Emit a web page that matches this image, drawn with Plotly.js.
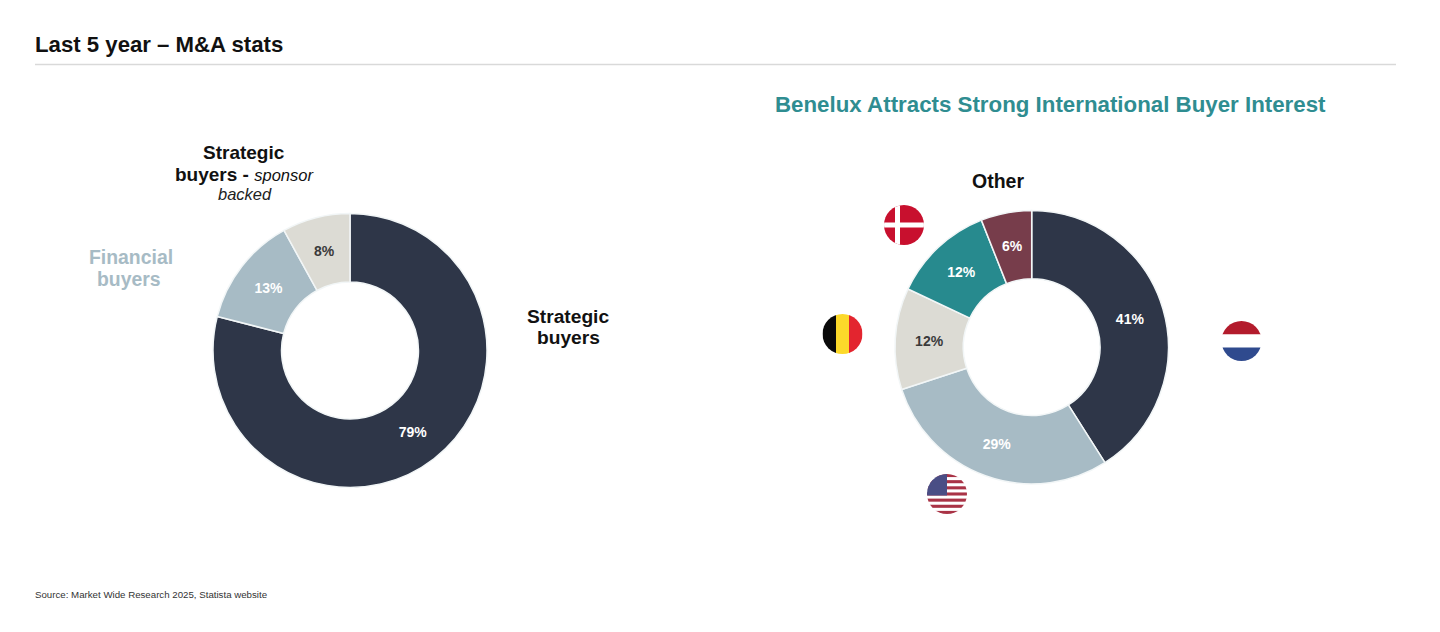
<!DOCTYPE html>
<html>
<head>
<meta charset="utf-8">
<script src="https://cdn.plot.ly/plotly-3.0.1.min.js"></script>
<style>html,body{margin:0;padding:0;background:#fff;overflow:hidden}#chart{width:1440px;height:632px}</style>
</head>
<body>
<div id="chart"></div>
<script>
const W = 1440, H = 632;
const buyerLabels = ["Strategic buyers", "Financial buyers", "Strategic buyers - sponsor backed"];
const buyerValues = [79, 13, 8];
const buyerColors = ["#2e3648", "#a7bbc5", "#dcdbd4"];
const buyerTextColors = ["#ffffff", "#ffffff", "#3a3a3a"];
const countryLabels = ["Netherlands", "United States", "Belgium", "Denmark", "Other"];
const countryValues = [41, 29, 12, 12, 6];
const countryColors = ["#2e3648", "#a7bbc5", "#dcdbd4", "#278a8e", "#773d4b"];
const countryTextColors = ["#ffffff", "#ffffff", "#3a3a3a", "#ffffff", "#ffffff"];
const FONT = "Liberation Sans, Arial, sans-serif";
const LEFT = { cx: 350, cy: 350.5, r: 137, hole: 0.5 };
const RIGHT = { cx: 1031.7, cy: 347.2, r: 136.7, hole: 0.5 };

function dom(g) {
  return { x: [(g.cx - g.r) / W, (g.cx + g.r) / W], y: [1 - (g.cy + g.r) / H, 1 - (g.cy - g.r) / H] };
}
// The narrow slice gets a label centred in the ring, as in the reference;
// Plotly would otherwise push it towards the outer edge.
function pie(labels, values, colors, textColors, g, manualIndex) {
  return {
    type: "pie", labels, values, domain: dom(g), hole: g.hole, sort: false, direction: "clockwise", rotation: 0,
    marker: { colors, line: { color: "#f2f6f7", width: 1.5 } },
    texttemplate: values.map((v, i) => i === manualIndex ? " " : "%{percent:.0%}"),
    textposition: "inside", insidetextorientation: "horizontal",
    textfont: { family: FONT, size: 14, color: textColors, weight: 700 },
    hoverinfo: "label+percent", showlegend: false
  };
}
function note(x, y, text, size, color, extra) {
  return Object.assign({
    xref: "paper", yref: "paper", x: x / W, y: 1 - y / H, text, showarrow: false,
    xanchor: "center", yanchor: "middle",
    font: { family: FONT, size, color }
  }, extra || {});
}
function sliceLabel(values, textColors, g, i) {
  const total = values.reduce((a, b) => a + b, 0);
  const before = values.slice(0, i).reduce((a, b) => a + b, 0);
  const mid = (before + values[i] / 2) / total * 2 * Math.PI;
  const rm = g.r * (1 + g.hole) / 2;
  return note(g.cx + rm * Math.sin(mid), g.cy - rm * Math.cos(mid),
    "<b>" + Math.round(values[i] / total * 100) + "%</b>", 14, textColors[i]);
}
function svgUri(body) {
  const s = '<svg xmlns="http://www.w3.org/2000/svg" width="80" height="80" viewBox="0 0 80 80"><defs><clipPath id="c"><circle cx="40" cy="40" r="40"/></clipPath></defs><g clip-path="url(#c)">' + body + '</g></svg>';
  return "data:image/svg+xml;base64," + btoa(s);
}
const flagDK = svgUri('<rect width="80" height="80" fill="#c8102e"/><rect x="22" width="10" height="80" fill="#fff"/><rect y="35" width="80" height="10" fill="#fff"/>');
const flagBE = svgUri('<rect width="28" height="80" fill="#0a0a0a"/><rect x="27" width="27" height="80" fill="#fcd92a"/><rect x="53" width="27" height="80" fill="#e3252f"/>');
const flagNL = svgUri('<rect width="80" height="27" fill="#b31b2c"/><rect y="27" width="80" height="26" fill="#fff"/><rect y="53" width="80" height="27" fill="#2f4a8e"/>');
let usStripes = '<rect width="80" height="80" fill="#fff"/>';
[0, 1, 2, 3, 4, 5, 6].forEach(i => { usStripes += '<rect y="' + (i * 12.3) + '" width="80" height="6.15" fill="#a93346"/>'; });
usStripes += '<rect width="40" height="43" fill="#4a4e85"/>';
const flagUS = svgUri(usStripes);
function flag(src, cx, cy) {
  return { source: src, xref: "paper", yref: "paper", x: (cx - 20) / W, y: 1 - (cy - 20) / H, sizex: 40 / W, sizey: 40 / H, xanchor: "left", yanchor: "top", sizing: "stretch", layer: "above" };
}

const data = [
  pie(buyerLabels, buyerValues, buyerColors, buyerTextColors, LEFT, 2),
  pie(countryLabels, countryValues, countryColors, countryTextColors, RIGHT, 4)
];
const layout = {
  width: W, height: H, margin: { l: 0, r: 0, t: 0, b: 0 },
  paper_bgcolor: "#fff", plot_bgcolor: "#fff",
  shapes: [{ type: "line", xref: "paper", yref: "paper", x0: 35 / W, x1: 1396 / W, y0: 1 - 64.5 / H, y1: 1 - 64.5 / H, line: { color: "#d9d9d9", width: 1.5 } }],
  images: [flag(flagDK, 904, 225), flag(flagBE, 842.5, 334), flag(flagNL, 1241.5, 341), flag(flagUS, 947, 494)],
  annotations: [
    note(33, 44.5, "<b>Last 5 year – M&A stats</b>", 22.2, "#111111", { xanchor: "left" }),
    note(1050.5, 104.5, "<b>Benelux Attracts Strong International Buyer Interest</b>", 22.3, "#2f8d91"),
    note(244, 153, "<b>Strategic</b>", 19, "#111111"),
    note(244.5, 175, "<b>buyers - </b><i><span style=\"font-size:16.5px\">sponsor</span></i>", 19, "#111111"),
    note(244.5, 194, "<i>backed</i>", 16.5, "#222222"),
    note(131, 257, "<b>Financial</b>", 19.4, "#a7bbc5"),
    note(129, 279, "<b>buyers</b>", 19.4, "#a7bbc5"),
    note(568, 316.5, "<b>Strategic</b>", 19.2, "#111111"),
    note(568, 337.5, "<b>buyers</b>", 19.2, "#111111"),
    note(998, 180.5, "<b>Other</b>", 19.5, "#111111"),
    note(33, 594.7, "Source: Market Wide Research 2025, Statista website", 9.7, "#333333", { xanchor: "left" }),
    sliceLabel(buyerValues, buyerTextColors, LEFT, 2),
    sliceLabel(countryValues, countryTextColors, RIGHT, 4)
  ]
};
Plotly.newPlot("chart", data, layout, { displayModeBar: false, responsive: false });
</script>
</body>
</html>
